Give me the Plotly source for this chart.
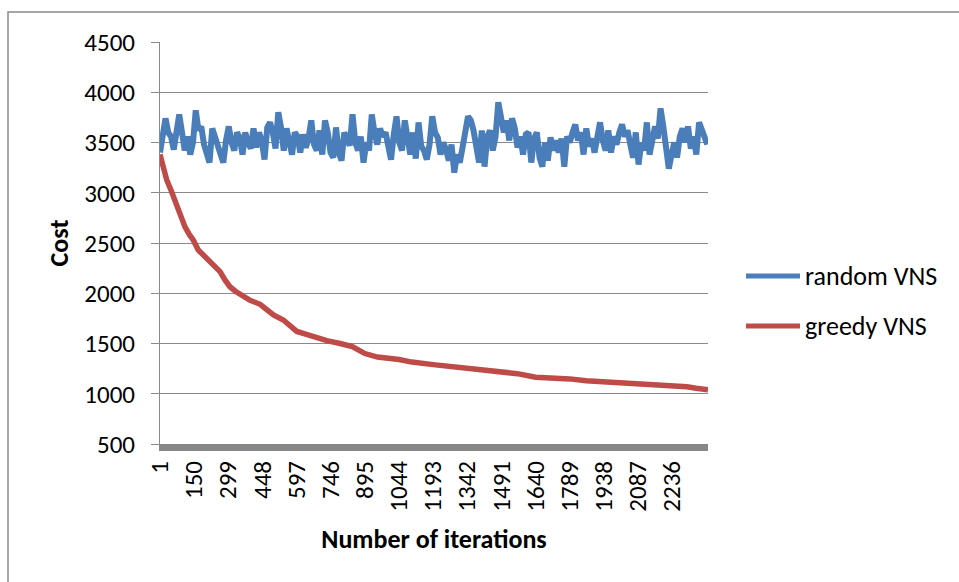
import plotly.graph_objects as go

# ---- data ----
tick_labels = ["1", "150", "299", "448", "597", "746", "895", "1044", "1193",
               "1342", "1491", "1640", "1789", "1938", "2087", "2236"]
tick_positions = [1, 150, 299, 448, 597, 746, 895, 1044, 1193,
                  1342, 1491, 1640, 1789, 1938, 2087, 2236]

# random VNS: sampled every 12 iterations, starting at iteration 1
random_iter = list(range(1, 2390, 12))
random_cost = [
    3400, 3550, 3740, 3600, 3560, 3430, 3650, 3780, 3600, 3420,
    3560, 3380, 3500, 3820, 3620, 3660, 3480, 3400, 3300, 3640,
    3560, 3450, 3360, 3300, 3520, 3660, 3500, 3420, 3600, 3550,
    3380, 3600, 3500, 3440, 3640, 3450, 3600, 3520, 3330, 3650,
    3700, 3600, 3440, 3800, 3650, 3420, 3640, 3480, 3380, 3600,
    3560, 3400, 3580, 3450, 3540, 3720, 3480, 3420, 3620, 3380,
    3720, 3600, 3400, 3350, 3650, 3400, 3320, 3600, 3550, 3470,
    3780, 3500, 3420, 3560, 3300, 3500, 3420, 3780, 3600, 3480,
    3640, 3560, 3600, 3450, 3330, 3580, 3760, 3500, 3420, 3720,
    3560, 3380, 3600, 3340, 3700, 3460, 3420, 3330, 3480, 3760,
    3600, 3550, 3380, 3500, 3430, 3320, 3480, 3200, 3380, 3300,
    3450, 3600, 3760, 3720, 3620, 3460, 3300, 3620, 3260, 3560,
    3620, 3420, 3560, 3900, 3700, 3600, 3720, 3520, 3740, 3640,
    3450, 3560, 3380, 3580, 3600, 3300, 3540, 3600, 3350, 3260,
    3500, 3320, 3550, 3420, 3520, 3400, 3540, 3260, 3560, 3500,
    3600, 3680, 3520, 3600, 3380, 3640, 3460, 3540, 3400, 3600,
    3700, 3520, 3420, 3620, 3400, 3560, 3480, 3600, 3680, 3560,
    3620, 3480, 3350, 3600, 3280, 3500, 3420, 3700, 3380, 3520,
    3660, 3540, 3840, 3660, 3420, 3240, 3380, 3500, 3350, 3560,
    3640, 3500, 3660, 3440, 3560, 3380, 3700, 3620, 3560, 3480,
]

# greedy VNS
greedy_iter = [1, 15, 30, 50, 74, 95, 110, 130, 146, 168, 195, 227, 263, 285,
               306, 330, 350, 394, 438, 470, 496, 539, 570, 598, 640, 670,
               729, 787, 840, 895, 950, 1044, 1100, 1193, 1270, 1342, 1420,
               1491, 1560, 1640, 1720, 1789, 1860, 1938, 2010, 2087, 2160,
               2236, 2300, 2340, 2392]
greedy_cost = [3380, 3250, 3130, 3020, 2860, 2760, 2660, 2580, 2530, 2430,
               2370, 2300, 2215, 2130, 2065, 2020, 1990, 1930, 1890, 1830,
               1784, 1734, 1680, 1620, 1590, 1565, 1528, 1500, 1470, 1400,
               1365, 1340, 1315, 1290, 1270, 1250, 1240, 1215, 1200, 1165,
               1160, 1148, 1130, 1120, 1115, 1100, 1095, 1080, 1070, 1055,
               1040]

series_names = ["random VNS", "greedy VNS"]
series_colors = ["#4a7ebb", "#be4b48"]

FONT = "Calibri, Carlito, Lato, sans-serif"
GRID = "#8a8a8a"

# layout geometry (pixels)
W, H = 959, 582
ML, MR, MT, MB = 160, 251, 42, 138
PW, PH = W - ML - MR, H - MT - MB


def px_x(px):
    return (px - ML) / PW


def px_y(py):
    return (H - MB - py) / PH


fig = go.Figure()
fig.add_trace(go.Scatter(x=random_iter, y=random_cost, mode="lines",
                         name=series_names[0], showlegend=False,
                         line=dict(color=series_colors[0], width=6)))
fig.add_trace(go.Scatter(x=greedy_iter, y=greedy_cost, mode="lines",
                         name=series_names[1], showlegend=False,
                         line=dict(color=series_colors[1], width=5.5)))

shapes = [
    # chart border
    dict(type="rect", xref="paper", yref="paper",
         x0=px_x(8), x1=px_x(1100), y0=px_y(700), y1=px_y(12),
         line=dict(color="#8a8a8a", width=1.5), layer="below"),
]
annotations = []
legend_y = [276, 326]
for name, color, ly in zip(series_names, series_colors, legend_y):
    shapes.append(dict(type="line", xref="paper", yref="paper",
                       x0=px_x(746), x1=px_x(800), y0=px_y(ly), y1=px_y(ly),
                       line=dict(color=color, width=5)))
    annotations.append(dict(text=name, xref="paper", yref="paper",
                            x=px_x(803), y=px_y(ly), xanchor="left",
                            yanchor="middle", showarrow=False,
                            font=dict(family=FONT, size=26, color="#000")))

fig.update_layout(
    width=W, height=H,
    margin=dict(l=ML, r=MR, t=MT, b=MB),
    paper_bgcolor="white", plot_bgcolor="white",
    font=dict(family=FONT, size=25, color="#000"),
    shapes=shapes, annotations=annotations,
    showlegend=False,
)
fig.update_xaxes(
    range=[1, 2392], tickmode="array", tickvals=tick_positions,
    ticktext=tick_labels, tickangle=-90, showgrid=False, zeroline=False,
    showline=True, linecolor="#878787", linewidth=7, ticks="",
    tickfont=dict(family=FONT, size=25),
    title=dict(text="<b>Number of iterations</b>", standoff=22,
               font=dict(family=FONT, size=26)),
)
fig.update_yaxes(
    range=[500, 4500], dtick=500, tick0=500, showgrid=True, gridcolor=GRID,
    gridwidth=1, zeroline=False, showline=True, linecolor=GRID, linewidth=1,
    ticks="outside", ticklen=8, tickcolor=GRID, ticklabelstandoff=11,
    tickfont=dict(family=FONT, size=25),
    title=dict(text="<b>Cost</b>", standoff=8, font=dict(family=FONT, size=26)),
)

fig.write_html("out.html", config={"displayModeBar": False},
               post_script="document.body.style.margin='0';")
